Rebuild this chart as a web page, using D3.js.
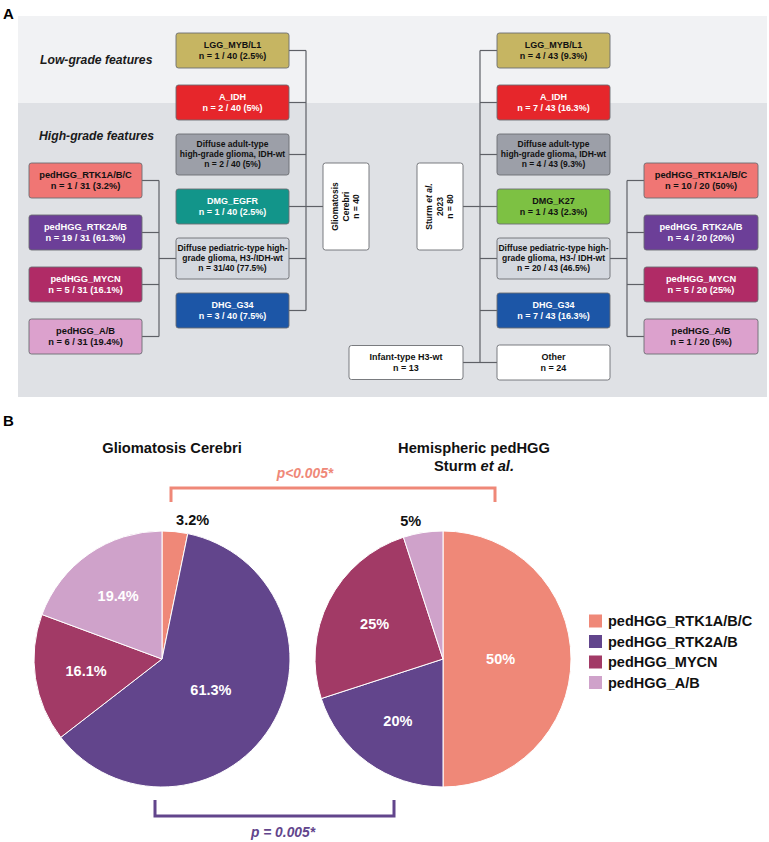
<!DOCTYPE html>
<html><head><meta charset="utf-8">
<script src="https://cdn.jsdelivr.net/npm/d3@7"></script>
<style>body{margin:0;background:#fff;} svg{display:block;font-family:"Liberation Sans",Arial,Helvetica,sans-serif;}</style>
</head><body><svg id="c" width="769" height="842"></svg>
<script>
// ---------- Panel A data ----------
const gcClasses = ["LGG_MYB/L1","A_IDH","Diffuse adult-type|high-grade glioma, IDH-wt","DMG_EGFR","Diffuse pediatric-type high-|grade glioma, H3-/IDH-wt","DHG_G34"];
const gcCounts = ["n = 1 / 40 (2.5%)","n = 2 / 40 (5%)","n = 2 / 40 (5%)","n = 1 / 40 (2.5%)","n = 31/40 (77.5%)","n = 3 / 40 (7.5%)"];
const sturmClasses = ["LGG_MYB/L1","A_IDH","Diffuse adult-type|high-grade glioma, IDH-wt","DMG_K27","Diffuse pediatric-type high-|grade glioma, H3-/ IDH-wt","DHG_G34","Other"];
const sturmCounts = ["n = 4 / 43 (9.3%)","n = 7 / 43 (16.3%)","n = 4 / 43 (9.3%)","n = 1 / 43 (2.3%)","n = 20 / 43 (46.5%)","n = 7 / 43 (16.3%)","n = 24"];
const subtypes = ["pedHGG_RTK1A/B/C","pedHGG_RTK2A/B","pedHGG_MYCN","pedHGG_A/B"];
const gcSubCounts = ["n = 1 / 31 (3.2%)","n = 19 / 31 (61.3%)","n = 5 / 31 (16.1%)","n = 6 / 31 (19.4%)"];
const sturmSubCounts = ["n = 10 / 20 (50%)","n = 4 / 20 (20%)","n = 5 / 20 (25%)","n = 1 / 20 (5%)"];
const cohortGC = ["Gliomatosis","Cerebri","n = 40"];
const cohortSturm = ["Sturm |et al.","2023","n = 80"];
const infantLabel = ["Infant-type H3-wt","n = 13"];
const sectionLabels = ["Low-grade features","High-grade features"];

// ---------- Panel B data ----------
const pieTitles = [["Gliomatosis Cerebri"],["Hemispheric pedHGG","Sturm |et al."]];
const gcValues = [1,19,5,6];
const sturmValues = [10,4,5,1];
const gcPctLabels = ["3.2%","61.3%","16.1%","19.4%"];
const sturmPctLabels = ["50%","20%","25%","5%"];
const pTexts = ["p<0.005*","p = 0.005*"];

// ---------- styles ----------
const classFill = {
  "LGG_MYB/L1":"#c6b562","A_IDH":"#e6262b","Diffuse adult-type":"#9c9fa8","DMG_EGFR":"#12958a",
  "Diffuse pediatric-type high-":"#d4d8df","DHG_G34":"#1c56a7","DMG_K27":"#7dc143","Other":"#ffffff",
  "pedHGG_RTK1A/B/C":"#f07674","pedHGG_RTK2A/B":"#6c3f98","pedHGG_MYCN":"#b02b66","pedHGG_A/B":"#dca1cd"
};
const whiteText = new Set(["A_IDH","DMG_EGFR","DHG_G34","pedHGG_RTK2A/B","pedHGG_MYCN"]);
const pieColor = d3.scaleOrdinal().domain(subtypes).range(["#ef8878","#62458c","#a23a66","#cfa2ca"]);

const svg = d3.select("#c");
const lineCol = "#5e6066";

// panel letters
svg.append("text").attr("x",3).attr("y",19).attr("font-size",15).attr("font-weight","bold").text("A");
svg.append("text").attr("x",3).attr("y",426).attr("font-size",15).attr("font-weight","bold").text("B");

// backgrounds
svg.append("rect").attr("x",18).attr("y",16).attr("width",749).attr("height",87).attr("fill","#f1f2f4");
svg.append("rect").attr("x",18).attr("y",103).attr("width",749).attr("height",294).attr("fill","#dfe1e5");

svg.append("text").attr("x",40).attr("y",60).attr("dy","0.35em").attr("font-size",12.2)
  .attr("font-weight","bold").attr("font-style","italic").attr("fill","#1a1a1a").text(sectionLabels[0]);
svg.append("text").attr("x",39).attr("y",136).attr("dy","0.35em").attr("font-size",12.2)
  .attr("font-weight","bold").attr("font-style","italic").attr("fill","#1a1a1a").text(sectionLabels[1]);

const yRow = d3.scalePoint().domain(d3.range(7)).range([50.5,362.5]);
const ySub = d3.scalePoint().domain(subtypes).range([180.5,336.5]);

const gLines = svg.append("g").attr("fill","none").attr("stroke",lineCol).attr("stroke-width",1.2);
const gBoxes = svg.append("g");

function seg(x1,y1,x2,y2){ gLines.append("path").attr("d",`M${x1},${y1}L${x2},${y2}`); }

function addLine(t, line, italicSplit){
  const parts = line.split("|");
  if(parts.length>1){
    t.append("tspan").text(parts[0]);
    t.append("tspan").attr("font-style","italic").text(parts[1]);
  } else t.text(line);
}

function box(x, cy, w, label, count, fs){
  const lines = label.split("|").concat(count ? [count] : []);
  const key = label.split("|")[0];
  const h = lines.length>2 ? 41 : 35;
  const fill = classFill[key] || "#fff";
  gBoxes.append("rect").attr("x",x).attr("y",cy-h/2).attr("width",w).attr("height",h)
    .attr("rx",2.5).attr("fill",fill).attr("stroke","#6b6d72").attr("stroke-width",0.9);
  const lh = lines.length>2 ? 10 : 11;
  const tc = whiteText.has(key) ? "#ffffff" : "#111111";
  lines.forEach((ln,i)=>{
    gBoxes.append("text").attr("x",x+w/2).attr("y",cy+(i-(lines.length-1)/2)*lh).attr("dy","0.35em")
      .attr("text-anchor","middle").attr("font-size",lines.length>2?8.5:fs).attr("font-weight","bold")
      .attr("fill",tc).text(ln);
  });
}

// left side (Gliomatosis)
gcClasses.forEach((c,i)=>{ seg(289,yRow(i),306,yRow(i)); });
seg(306,yRow(0),306,yRow(5));
seg(306,yRow(3),323,yRow(3));
subtypes.forEach(s=>seg(142,ySub(s),159,ySub(s)));
seg(159,ySub(subtypes[0]),159,ySub(subtypes[3]));
seg(159,yRow(4),176,yRow(4));

// right side (Sturm)
sturmClasses.forEach((c,i)=>{ seg(480,yRow(i),497,yRow(i)); });
seg(480,yRow(0),480,yRow(6));
seg(463,yRow(3),480,yRow(3));
seg(463,yRow(6),480,yRow(6));
subtypes.forEach(s=>seg(627,ySub(s),644,ySub(s)));
seg(627,ySub(subtypes[0]),627,ySub(subtypes[3]));
seg(610,yRow(4),627,yRow(4));

gcClasses.forEach((c,i)=>box(176,yRow(i),113,c,gcCounts[i],9));
sturmClasses.forEach((c,i)=>box(497,yRow(i),113,c,sturmCounts[i],9));
subtypes.forEach((s,i)=>box(29,ySub(s),113,s,gcSubCounts[i],9.3));
subtypes.forEach((s,i)=>box(644,ySub(s),114,s,sturmSubCounts[i],9.3));

// cohort boxes (rotated text)
function cohortBox(x, lines){
  const cy = yRow(3);
  gBoxes.append("rect").attr("x",x).attr("y",163).attr("width",46).attr("height",87).attr("rx",2.5)
    .attr("fill","#fff").attr("stroke","#6b6d72").attr("stroke-width",0.9);
  lines.forEach((ln,i)=>{
    const t = gBoxes.append("text").attr("transform",`translate(${x+23+(i-1)*10.5},${cy}) rotate(-90)`)
      .attr("dy","0.35em").attr("text-anchor","middle").attr("font-size",8.5).attr("font-weight","bold").attr("fill","#111");
    addLine(t,ln);
  });
}
cohortBox(323,cohortGC);
cohortBox(417,cohortSturm);

// infant box
gBoxes.append("rect").attr("x",349).attr("y",yRow(6)-17).attr("width",114).attr("height",34).attr("rx",2.5)
  .attr("fill","#fff").attr("stroke","#6b6d72").attr("stroke-width",0.9);
infantLabel.forEach((ln,i)=>{
  gBoxes.append("text").attr("x",406).attr("y",yRow(6)+(i-0.5)*11).attr("dy","0.35em").attr("text-anchor","middle")
    .attr("font-size",9).attr("font-weight","bold").attr("fill","#111").text(ln);
});

// ---------- Panel B ----------
const R = 128;
const pieCenters = [[162,659],[443,659]];
const pie = d3.pie().sort(null).value(d=>d.v);
const arc = d3.arc().innerRadius(0).outerRadius(R);

[[gcValues,gcPctLabels],[sturmValues,sturmPctLabels]].forEach(([vals,labs],k)=>{
  const data = subtypes.map((s,i)=>({s, v:vals[i], lab:labs[i]}));
  const total = d3.sum(vals);
  const g = svg.append("g").attr("transform",`translate(${pieCenters[k][0]},${pieCenters[k][1]})`);
  const arcs = pie(data);
  g.selectAll("path").data(arcs).join("path").attr("d",arc).attr("fill",d=>pieColor(d.data.s))
    .attr("stroke","#fff").attr("stroke-width",1);
  arcs.forEach(a=>{
    const frac = a.data.v/total;
    const mid = (a.startAngle+a.endAngle)/2;
    let rr, anchor="middle", col="#fff";
    if(frac<0.06){ rr = R*1.09; anchor = mid<Math.PI ? "start" : "end"; col="#111"; }
    else if(frac>=0.5){ rr = R*0.45; }
    else rr = R*0.6;
    g.append("text").attr("x",Math.sin(mid)*rr).attr("y",-Math.cos(mid)*rr).attr("dy","0.35em")
      .attr("text-anchor",anchor).attr("font-size",14.5).attr("font-weight","bold").attr("fill",col).text(a.data.lab);
  });
  // titles
  const tx = k===0 ? 172 : 474;
  pieTitles[k].forEach((ln,i)=>{
    const t = svg.append("text").attr("x",tx).attr("y",448+i*18).attr("dy","0.35em").attr("text-anchor","middle")
      .attr("font-size",14.7).attr("font-weight","bold").attr("fill","#111");
    addLine(t,ln);
  });
});

// significance brackets
svg.append("path").attr("d","M171,502V488H495V502").attr("fill","none").attr("stroke","#ef8878").attr("stroke-width",3);
svg.append("text").attr("x",305).attr("y",473).attr("dy","0.35em").attr("text-anchor","middle").attr("font-size",13.8)
  .attr("font-weight","bold").attr("font-style","italic").attr("fill","#ef8878").text(pTexts[0]);
svg.append("path").attr("d","M155,800V816H394V800").attr("fill","none").attr("stroke","#62458c").attr("stroke-width",3);
svg.append("text").attr("x",283).attr("y",832).attr("dy","0.35em").attr("text-anchor","middle").attr("font-size",13.8)
  .attr("font-weight","bold").attr("font-style","italic").attr("fill","#62458c").text(pTexts[1]);

// legend
const leg = svg.append("g");
subtypes.forEach((s,i)=>{
  const cy = 621 + i*20.5;
  leg.append("rect").attr("x",589).attr("y",cy-6.5).attr("width",13).attr("height",13).attr("fill",pieColor(s));
  leg.append("text").attr("x",608).attr("y",cy).attr("dy","0.35em").attr("font-size",14.5).attr("font-weight","bold")
    .attr("fill","#111").text(s);
});
</script></body></html>
